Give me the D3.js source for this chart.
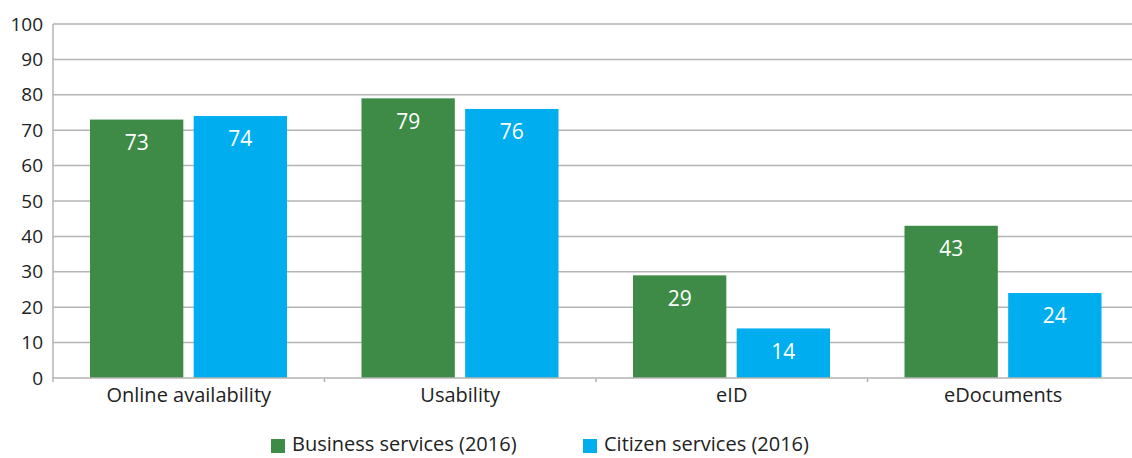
<!DOCTYPE html>
<html>
<head>
<meta charset="utf-8">
<script src="https://cdn.jsdelivr.net/npm/d3@7"></script>
<style>
  body { margin: 0; background: #fff; }
  text { font-family: "Open Sans", "Noto Sans", sans-serif; fill: #222; }
</style>
</head>
<body>
<div id="chart"></div>
<script>
(function() {
  const categories = ['Online availability', 'Usability', 'eID', 'eDocuments'];
  const seriesNames = ['Business services (2016)', 'Citizen services (2016)'];
  const business = [73, 79, 29, 43];
  const citizen = [74, 76, 14, 24];
  const yTicks = [0, 10, 20, 30, 40, 50, 60, 70, 80, 90, 100];
  const colors = ['#3d8b46', '#00aeef'];

  const width = 1132, height = 458;
  const margin = { top: 24, left: 53, bottom: 80 };
  const plotBottom = height - margin.bottom;

  const svg = d3.select('#chart')
    .append('svg')
      .attr('width', width)
      .attr('height', height);

  const x = d3.scaleBand()
    .domain(categories)
    .range([margin.left, margin.left + 4 * 271.5]);

  // bars inside each category
  const inner = d3.scaleBand()
    .domain(seriesNames)
    .range([37, 234])
    .paddingInner(0.1);

  const y = d3.scaleLinear()
    .domain([0, 100])
    .range([plotBottom, margin.top]);

  // gridlines
  svg.append('g')
    .selectAll('line')
    .data(yTicks.filter(d => d > 0))
    .enter().append('line')
      .attr('x1', margin.left)
      .attr('x2', width)
      .attr('y1', d => y(d))
      .attr('y2', d => y(d))
      .attr('stroke', '#b3b3b3')
      .attr('stroke-width', 1.5);

  // y labels
  svg.append('g')
    .selectAll('text')
    .data(yTicks)
    .enter().append('text')
      .attr('x', 43)
      .attr('y', d => y(d))
      .attr('dy', '0.35em')
      .attr('text-anchor', 'end')
      .style('font-size', '19px')
      .text(d => d);

  const rows = categories.map((c, i) => ({ cat: c, values: [business[i], citizen[i]] }));

  const groups = svg.selectAll('.group')
    .data(rows)
    .enter().append('g')
      .attr('class', 'group')
      .attr('transform', d => `translate(${x(d.cat)},0)`);

  groups.selectAll('rect')
    .data(d => d.values.map((v, j) => ({ name: seriesNames[j], v: v, j: j })))
    .enter().append('rect')
      .attr('x', d => inner(d.name))
      .attr('width', inner.bandwidth())
      .attr('y', d => y(d.v))
      .attr('height', d => plotBottom - y(d.v))
      .attr('fill', d => colors[d.j]);

  groups.selectAll('.val')
    .data(d => d.values.map((v, j) => ({ name: seriesNames[j], v: v })))
    .enter().append('text')
      .attr('class', 'val')
      .attr('x', d => inner(d.name) + inner.bandwidth() / 2)
      .attr('y', d => y(d.v) + 23)
      .attr('dy', '0.35em')
      .attr('text-anchor', 'middle')
      .style('font-size', '21px')
      .style('fill', '#fff')
      .text(d => d.v);

  // axes lines
  svg.append('line')
    .attr('x1', margin.left).attr('x2', margin.left)
    .attr('y1', margin.top).attr('y2', plotBottom + 4)
    .attr('stroke', '#b3b3b3').attr('stroke-width', 1.5);

  svg.append('line')
    .attr('x1', margin.left).attr('x2', width)
    .attr('y1', plotBottom).attr('y2', plotBottom)
    .attr('stroke', '#b3b3b3').attr('stroke-width', 1.5);

  svg.append('g')
    .selectAll('line')
    .data(categories.slice(1))
    .enter().append('line')
      .attr('x1', d => x(d)).attr('x2', d => x(d))
      .attr('y1', plotBottom).attr('y2', plotBottom + 4)
      .attr('stroke', '#b3b3b3').attr('stroke-width', 1.5);

  // category labels
  svg.append('g')
    .selectAll('text')
    .data(categories)
    .enter().append('text')
      .attr('x', d => x(d) + x.bandwidth() / 2)
      .attr('y', plotBottom + 17)
      .attr('dy', '0.35em')
      .attr('text-anchor', 'middle')
      .style('font-size', '20px')
      .text(d => d);

  // legend
  const legendX = [271, 583];
  const legend = svg.selectAll('.legend')
    .data(seriesNames)
    .enter().append('g')
      .attr('class', 'legend')
      .attr('transform', (d, i) => `translate(${legendX[i]},439)`);

  legend.append('rect')
    .attr('width', 14).attr('height', 14)
    .attr('fill', (d, i) => colors[i]);

  legend.append('text')
    .attr('x', 21)
    .attr('y', 5)
    .attr('dy', '0.35em')
    .style('font-size', '20px')
    .text(d => d);
})();
</script>
</body>
</html>
